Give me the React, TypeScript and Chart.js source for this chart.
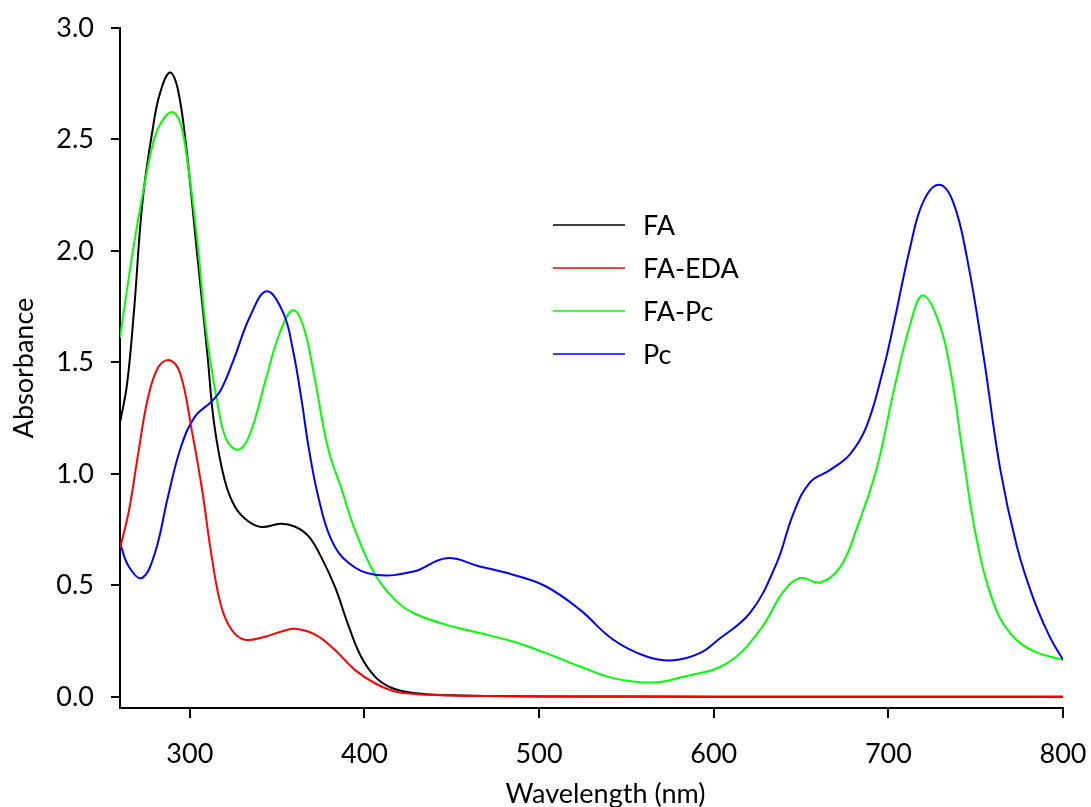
import React, { useEffect, useRef } from "react";
import { Chart, registerables } from "chart.js";

Chart.register(...registerables);

const FONT = "Lato, 'Open Sans', 'DejaVu Sans', sans-serif";
const FONT_SIZE = 27;

// ---------- data ----------
const seriesNames = ["FA", "FA-EDA", "FA-Pc", "Pc"];
const seriesColors = ["#000000", "#ff0000", "#00ff00", "#0000ff"];
const seriesOrder = [3, 0, 2, 1];

const faWavelength = [260, 264, 268, 273, 279, 283, 288.5, 293, 298, 304, 310, 314, 320, 326, 333, 341, 352, 360, 368, 375, 383, 391, 398, 406, 414, 423, 435, 450, 470, 500, 600, 700, 800];
const faAbs = [1.23, 1.4, 1.73, 2.23, 2.56, 2.71, 2.8, 2.73, 2.46, 2.0, 1.54, 1.22, 0.97, 0.85, 0.79, 0.762, 0.776, 0.764, 0.72, 0.63, 0.495, 0.316, 0.181, 0.091, 0.046, 0.024, 0.012, 0.007, 0.004, 0.002, 0.001, 0.001, 0.001];

const faEdaWavelength = [260, 265, 270.5, 276, 282, 288.5, 294.5, 301, 307, 312.5, 318, 324, 331.5, 343, 352, 360, 372, 383, 394.5, 406, 417.5, 429, 445, 470, 520, 600, 700, 800];
const faEdaAbs = [0.667, 0.83, 1.094, 1.34, 1.48, 1.51, 1.45, 1.2, 0.93, 0.63, 0.405, 0.3, 0.256, 0.27, 0.292, 0.305, 0.278, 0.211, 0.121, 0.061, 0.024, 0.013, 0.007, 0.004, 0.002, 0.001, 0.001, 0.001];

const faPcWavelength = [260, 267.5, 273.5, 279, 283, 289.5, 294.5, 299, 304, 309.5, 315.5, 321, 328, 334.5, 344, 351.5, 359, 365, 371, 379, 387, 394.5, 406, 417.5, 428, 447, 466, 485, 504, 523.5, 542.5, 565, 582.5, 607.5, 626.5, 640, 649.5, 661, 672.5, 682, 693.5, 703, 712.5, 719.5, 728, 735.5, 743, 750.5, 760, 770, 783, 800];
const faPcAbs = [1.61, 2.006, 2.276, 2.485, 2.567, 2.623, 2.575, 2.38, 2.066, 1.632, 1.333, 1.153, 1.109, 1.18, 1.438, 1.632, 1.734, 1.662, 1.45, 1.12, 0.929, 0.75, 0.55, 0.435, 0.376, 0.323, 0.286, 0.248, 0.196, 0.136, 0.084, 0.064, 0.09, 0.15, 0.3, 0.473, 0.533, 0.513, 0.583, 0.757, 1.03, 1.37, 1.67, 1.8, 1.7, 1.466, 1.072, 0.71, 0.426, 0.284, 0.206, 0.166];

const pcWavelength = [260, 265, 272.5, 280, 287.5, 295, 303, 312.5, 318, 325, 334.5, 344, 353.5, 359, 364, 368, 373.5, 381, 391, 406, 428, 447, 466, 485, 504, 523.5, 542.5, 561.5, 577, 592, 602, 621, 636, 645.5, 655, 666.5, 678, 687.5, 697, 703, 712.5, 720, 729, 737, 745, 754.5, 764, 773.5, 783, 792.5, 800];
const pcAbs = [0.69, 0.585, 0.533, 0.645, 0.899, 1.123, 1.258, 1.325, 1.38, 1.51, 1.707, 1.819, 1.722, 1.557, 1.33, 1.12, 0.899, 0.705, 0.6, 0.548, 0.562, 0.622, 0.585, 0.548, 0.495, 0.39, 0.256, 0.181, 0.164, 0.196, 0.253, 0.379, 0.599, 0.82, 0.961, 1.017, 1.088, 1.213, 1.466, 1.67, 2.017, 2.221, 2.297, 2.221, 1.97, 1.528, 1.024, 0.678, 0.442, 0.268, 0.166];

const seriesWavelengths = [faWavelength, faEdaWavelength, faPcWavelength, pcWavelength];
const seriesValues = [faAbs, faEdaAbs, faPcAbs, pcAbs];

const xTickValues = [300, 400, 500, 600, 700, 800];
const yTickValues = [0, 0.5, 1.0, 1.5, 2.0, 2.5, 3.0];
const xTitle = "Wavelength (nm)";
const yTitle = "Absorbance";

// ---------- custom drawing: legend + axis titles ----------
const overlayPlugin = {
  id: "overlay",
  afterDraw(chart: any) {
    const { ctx, chartArea } = chart;
    ctx.save();
    ctx.font = `${FONT_SIZE}px ${FONT}`;
    ctx.fillStyle = "#000";
    // legend
    const lx0 = chartArea.left + 433;
    const lx1 = chartArea.left + 505;
    const tx = chartArea.left + 523;
    const ly0 = chartArea.top + 197;
    const dy = 43;
    seriesNames.forEach((name, i) => {
      const y = ly0 + i * dy;
      ctx.strokeStyle = seriesColors[i];
      ctx.lineWidth = 1.3;
      ctx.beginPath();
      ctx.moveTo(lx0, y);
      ctx.lineTo(lx1, y);
      ctx.stroke();
      ctx.textAlign = "left";
      ctx.textBaseline = "middle";
      ctx.fillText(name, tx, y + 1);
    });
    // x title
    ctx.textAlign = "center";
    ctx.textBaseline = "alphabetic";
    ctx.fillText(xTitle, (chartArea.left + chartArea.right) / 2 + 14, chartArea.bottom + 95);
    // y title
    ctx.translate(33, (chartArea.top + chartArea.bottom) / 2);
    ctx.rotate(-Math.PI / 2);
    ctx.fillText(yTitle, 0, 0);
    ctx.restore();
  },
};

export default function App() {
  const canvasRef = useRef<HTMLCanvasElement | null>(null);

  useEffect(() => {
    document.body.style.margin = "0";
    const canvas = canvasRef.current;
    if (!canvas) return;
    const chart = new Chart(canvas, {
      type: "line",
      data: {
        datasets: seriesNames.map((name, i) => ({
          label: name,
          data: seriesWavelengths[i].map((x, j) => ({ x, y: seriesValues[i][j] })),
          borderColor: seriesColors[i],
          backgroundColor: seriesColors[i],
          borderWidth: 2,
          pointRadius: 0,
          fill: false,
          tension: 0.4,
          order: seriesOrder[i],
        })),
      },
      options: {
        responsive: false,
        animation: false,
        layout: { padding: { top: 28, right: 28, left: 0, bottom: 0 } },
        plugins: {
          legend: { display: false },
          tooltip: { enabled: false },
          title: { display: false },
        },
        scales: {
          x: {
            type: "linear",
            min: 260,
            max: 800,
            afterBuildTicks: (s: any) => {
              s.ticks = xTickValues.map((v) => ({ value: v }));
            },
            afterFit: (s: any) => {
              s.height = 99;
              s.paddingLeft = 0;
              s.paddingRight = 0;
            },
            ticks: {
              color: "#000",
              font: { family: FONT, size: FONT_SIZE },
              padding: 20,
              maxRotation: 0,
              autoSkip: false,
              callback: (v: any) => String(v),
            },
            grid: {
              drawOnChartArea: false,
              drawTicks: true,
              tickLength: 10,
              color: "#000",
              lineWidth: 2,
            },
            border: { display: true, color: "#000", width: 2 },
          },
          y: {
            type: "linear",
            min: -0.05,
            max: 3.0,
            afterBuildTicks: (s: any) => {
              s.ticks = yTickValues.map((v) => ({ value: v }));
            },
            afterFit: (s: any) => {
              s.width = 120;
              s.paddingTop = 0;
              s.paddingBottom = 0;
            },
            ticks: {
              color: "#000",
              font: { family: FONT, size: FONT_SIZE },
              padding: 17,
              autoSkip: false,
              callback: (v: any) => Number(v).toFixed(1),
            },
            grid: {
              drawOnChartArea: false,
              drawTicks: true,
              tickLength: 9,
              color: "#000",
              lineWidth: 2,
            },
            border: { display: true, color: "#000", width: 2 },
          },
        },
      },
      plugins: [overlayPlugin],
    } as any);
    return () => chart.destroy();
  }, []);

  return (
    <div style={{ width: 1091, height: 807, background: "#fff" }}>
      <canvas ref={canvasRef} width={1091} height={807} style={{ display: "block" }} />
    </div>
  );
}
